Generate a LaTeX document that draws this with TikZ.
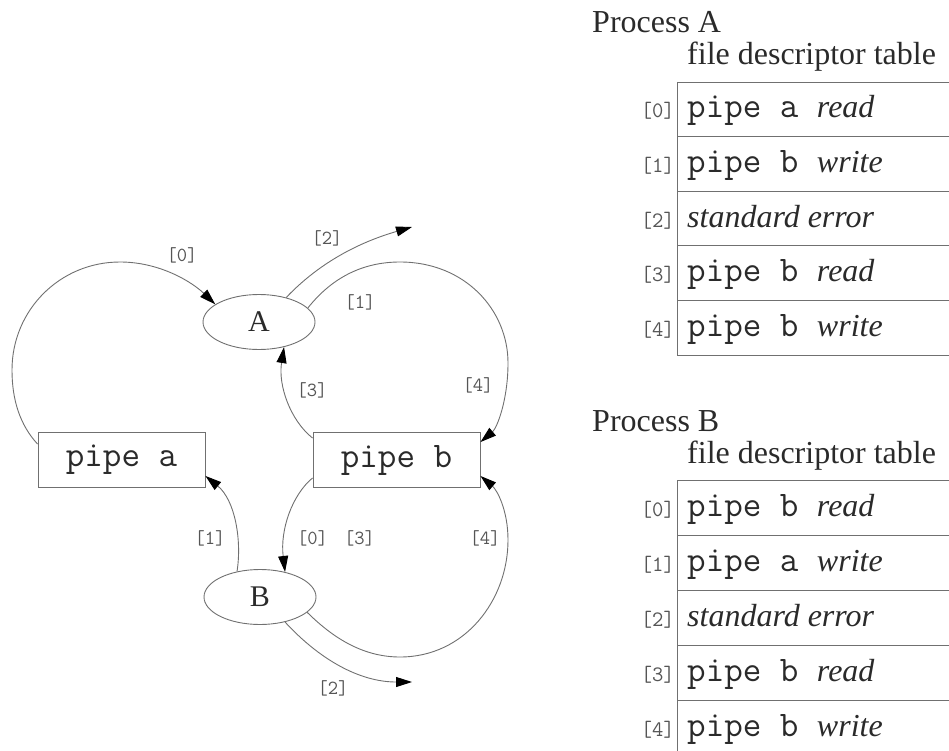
\documentclass[tikz,border=0pt]{standalone}
\usepackage{fontspec}
\setmainfont{Liberation Serif}
\setmonofont{Latin Modern Mono}
\usetikzlibrary{arrows.meta,shapes.geometric}
\definecolor{lc}{HTML}{707070}
\definecolor{tc}{HTML}{2A2A2A}
\begin{document}
\begin{tikzpicture}[x=1pt,y=-1pt,
  ln/.style={draw=lc, line width=0.9pt},
  arr/.style={ln, -{Triangle[length=16pt,width=10pt,color=black]}},
  proc/.style={ellipse, draw=lc, line width=0.9pt, minimum width=112pt, minimum height=55pt, inner sep=0pt, font=\fontsize{30}{36}\selectfont, text=tc},
  pipebox/.style={rectangle, draw=lc, line width=0.9pt, minimum width=167pt, minimum height=55pt, inner sep=0pt, font=\fontsize{36}{40}\selectfont\ttfamily, text=tc},
  elab/.style={font=\fontsize{20}{22}\selectfont\ttfamily, text=tc!80, inner sep=0pt},
  idx/.style={font=\fontsize{22}{24}\selectfont\ttfamily, text=tc!80, inner sep=0pt, anchor=base east},
  cell/.style={font=\fontsize{32}{38}\selectfont, text=tc, inner sep=0pt, anchor=base west},
  head/.style={font=\fontsize{32}{38}\selectfont, text=tc, inner sep=0pt, anchor=base west},
  tline/.style={draw=lc, line width=0.9pt}
]
\useasboundingbox (0,0) rectangle (949,751);
\newcommand{\mono}[1]{{\fontsize{36}{40}\selectfont\ttfamily #1}}

% ---------- graph ----------
\node[proc] (A) at (259,322) {A};
\node[proc] (B) at (260,597) {B};
\node[pipebox] (pipea) at (121.5,460) {pipe a};
\node[pipebox] (pipeb) at (396.5,460) {pipe b};
\coordinate (a2end) at (412,227);
\coordinate (b2end) at (412,682);

% pipe a -> A [0]
\draw[arr] ([yshift=-12pt]pipea.north west) .. controls (20,425) and (12,400) .. (12,370)
  .. controls (12,310) and (60,262) .. (120,262)
  .. controls (160,262) and (192,282) .. (A.158);
% A -> [2]
\draw[arr] (A.42) .. controls (320,262) and (360,242) .. (a2end);
% A -> pipe b [1] [4]
\draw[arr] (A.16) .. controls (330,280) and (360,262) .. (400,262)
  .. controls (465,262) and (508,310) .. (508,363)
  .. controls (508,400) and (497,428) .. ([yshift=-10pt]pipeb.north east);
% pipe b -> A [3]
\draw[arr] ([yshift=-6pt]pipeb.north west) .. controls (290,420) and (278,385) .. (A.-45);
% B -> pipe a [1]
\draw[arr] (B.132) .. controls (242,540) and (235,500) .. ([yshift=12pt]pipea.south east);
% pipe b -> B [0] [3]
\draw[arr] ([yshift=10pt]pipeb.south west) .. controls (292,495) and (280,530) .. (B.45);
% B -> pipe b [4]
\draw[arr] (B.-18) .. controls (335,640) and (365,657) .. (400,657)
  .. controls (465,657) and (508,600) .. (508,540)
  .. controls (508,510) and (497,490) .. ([yshift=12pt]pipeb.south east);
% B -> [2]
\draw[arr] (B.-45) .. controls (320,660) and (360,682) .. (b2end);

% edge labels
\node[elab] (l1) at (182,255) {[0]};
\node[elab] (l2) at (327,238) {[2]};
\node[elab] (l3) at (360,302) {[1]};
\node[elab] (l4) at (478,385) {[4]};
\node[elab] (l5) at (312,390) {[3]};
\node[elab] (l6) at (210,538) {[1]};
\node[elab] (l7) at (336,538) {[0]\hspace{16pt}[3]};
\node[elab] (l8) at (485,538) {[4]};
\node[elab] (l9) at (333,688) {[2]};

% ---------- Process A table ----------
\node[head] (pA) at (592,33) {Process A};
\node[head] (fA) at (687,65) {file descriptor table};
\foreach \yy in {82,136.6,191.2,245.8,300.4,355} {\draw[tline] (677,\yy) -- (949,\yy);}
\draw[tline] (677,82) -- (677,355);
\node[idx] (iA0) at (675,118) {[0]};
\node[idx] (iA1) at (675,172.6) {[1]};
\node[idx] (iA2) at (675,227.2) {[2]};
\node[idx] (iA3) at (675,281.8) {[3]};
\node[idx] (iA4) at (675,336.4) {[4]};
\node[cell] (cA0) at (687,118) {\mono{pipe a }\textit{read}};
\node[cell] (cA1) at (687,172.6) {\mono{pipe b }\textit{write}};
\node[cell] (cA2) at (687,227.2) {\textit{standard error}};
\node[cell] (cA3) at (687,281.8) {\mono{pipe b }\textit{read}};
\node[cell] (cA4) at (687,336.4) {\mono{pipe b }\textit{write}};

% ---------- Process B table ----------
\node[head] (pB) at (592,431) {Process B};
\node[head] (fB) at (687,463) {file descriptor table};
\foreach \yy in {480,535,590,645,700} {\draw[tline] (677,\yy) -- (949,\yy);}
\draw[tline] (677,480) -- (677,751);
\node[idx] (iB0) at (675,516) {[0]};
\node[idx] (iB1) at (675,571) {[1]};
\node[idx] (iB2) at (675,626) {[2]};
\node[idx] (iB3) at (675,681) {[3]};
\node[idx] (iB4) at (675,736) {[4]};
\node[cell] (cB0) at (687,516) {\mono{pipe b }\textit{read}};
\node[cell] (cB1) at (687,571) {\mono{pipe a }\textit{write}};
\node[cell] (cB2) at (687,626) {\textit{standard error}};
\node[cell] (cB3) at (687,681) {\mono{pipe b }\textit{read}};
\node[cell] (cB4) at (687,736) {\mono{pipe b }\textit{write}};
\end{tikzpicture}
\end{document}
